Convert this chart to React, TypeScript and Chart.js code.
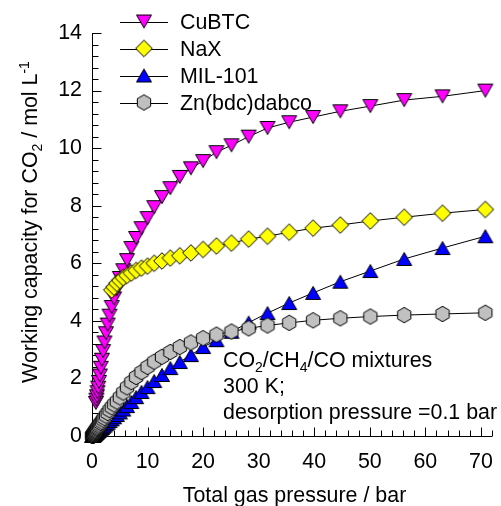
import React, { useEffect, useRef } from 'react';
import { Chart, registerables } from 'chart.js';

Chart.register(...registerables);

// ---------- data ----------
const pressures = [
  0.1, 0.112, 0.126, 0.141, 0.158, 0.178, 0.2, 0.224, 0.251, 0.282,
  0.316, 0.355, 0.398, 0.447, 0.501, 0.562, 0.631, 0.708, 0.794, 0.891,
  1.0, 1.12, 1.26, 1.41, 1.58, 1.78, 2.0, 2.24, 2.51, 2.82,
  3.16, 3.55, 3.98, 4.47, 5.01, 5.62, 6.31, 7.08, 7.94, 8.91,
  10.0, 11.2, 12.6, 14.1, 15.8, 17.8, 20.0, 22.4, 25.1, 28.2,
  31.6, 35.5, 39.8, 44.7, 50.1, 56.2, 63.1, 70.8,
];

const seriesNames = ['CuBTC', 'NaX', 'MIL-101', 'Zn(bdc)dabco'];

// CuBTC starts at pressures[17]
const cubtcStart = 17;
const cubtc = [
  1.15, 1.26, 1.38, 1.52, 1.68, 1.88, 2.1, 2.37, 2.65, 2.95,
  3.25, 3.57, 3.87, 4.18, 4.48, 4.78, 5.1, 5.49, 5.76, 6.11,
  6.53, 6.88, 7.22, 7.57, 7.95, 8.3, 8.61, 9.0, 9.3, 9.55,
  9.86, 10.1, 10.4, 10.7, 10.9, 11.08, 11.28, 11.46, 11.67, 11.8,
  12.0,
];

// NaX starts at pressures[31]
const naxStart = 31;
const nax = [
  5.07, 5.17, 5.3, 5.4, 5.5, 5.58, 5.66, 5.75, 5.83, 5.9,
  6.0, 6.08, 6.18, 6.26, 6.36, 6.48, 6.6, 6.7, 6.84, 6.94,
  7.08, 7.22, 7.33, 7.47, 7.6, 7.74, 7.87,
];

// MIL-101 starts at pressures[0]
const milStart = 0;
const mil101 = [
  0, 0.001, 0.003, 0.005, 0.008, 0.012, 0.015, 0.02, 0.025, 0.03,
  0.035, 0.04, 0.045, 0.055, 0.065, 0.075, 0.085, 0.1, 0.11, 0.13,
  0.15, 0.17, 0.19, 0.22, 0.25, 0.28, 0.32, 0.36, 0.41, 0.46,
  0.52, 0.58, 0.65, 0.73, 0.82, 0.92, 1.04, 1.18, 1.35, 1.53,
  1.7, 1.91, 2.12, 2.36, 2.57, 2.81, 3.09, 3.33, 3.62, 3.94,
  4.27, 4.62, 4.97, 5.36, 5.73, 6.15, 6.53, 6.94,
];

// Zn(bdc)dabco starts at pressures[0]
const znStart = 0;
const znbdc = [
  0, 0.003, 0.007, 0.01, 0.015, 0.02, 0.03, 0.035, 0.04, 0.05,
  0.06, 0.08, 0.09, 0.11, 0.13, 0.15, 0.17, 0.19, 0.22, 0.25,
  0.28, 0.32, 0.36, 0.4, 0.45, 0.5, 0.57, 0.63, 0.71, 0.8,
  0.9, 1.0, 1.1, 1.2, 1.34, 1.51, 1.69, 1.87, 2.05, 2.22,
  2.4, 2.58, 2.75, 2.92, 3.09, 3.25, 3.4, 3.52, 3.63, 3.74,
  3.84, 3.93, 4.02, 4.09, 4.15, 4.2, 4.24, 4.28,
];

const xTickLabels = [0, 10, 20, 30, 40, 50, 60, 70];
const yTickLabels = [0, 2, 4, 6, 8, 10, 12, 14];

const annotationLines = [
  [{ t: 'CO' }, { t: '2', sub: true }, { t: '/CH' }, { t: '4', sub: true }, { t: '/CO mixtures' }],
  [{ t: '300 K;' }],
  [{ t: 'desorption pressure =0.1 bar' }],
];
const xTitle = [{ t: 'Total gas pressure / bar' }];
const yTitle = [
  { t: 'Working capacity for CO' }, { t: '2', sub: true }, { t: ' / mol L' }, { t: '-1', sup: true },
];

// ---------- styles ----------
const FONT = '"Liberation Sans", Arial, Helvetica, sans-serif';
const FS = 21.4;
const SFS = 14;

type Part = { t: string; sub?: boolean; sup?: boolean };

function makeMarker(kind: string, fill: string): HTMLCanvasElement {
  const c = document.createElement('canvas');
  const W = 20, H = 20;
  c.width = W; c.height = H;
  const g = c.getContext('2d')!;
  const cx = W / 2, cy = H / 2;
  g.beginPath();
  if (kind === 'down') {
    const hw = 7.5, h = 13;
    g.moveTo(cx - hw, cy - h / 2);
    g.lineTo(cx + hw, cy - h / 2);
    g.lineTo(cx, cy + h / 2);
  } else if (kind === 'up') {
    const hw = 7.5, h = 13;
    g.moveTo(cx - hw, cy + h / 2);
    g.lineTo(cx + hw, cy + h / 2);
    g.lineTo(cx, cy - h / 2);
  } else if (kind === 'diamond') {
    const r = 8.3;
    g.moveTo(cx, cy - r);
    g.lineTo(cx + r, cy);
    g.lineTo(cx, cy + r);
    g.lineTo(cx - r, cy);
  } else {
    const R = 7.7;
    for (let i = 0; i < 6; i++) {
      const a = -Math.PI / 2 + (i * Math.PI) / 3;
      const px = cx + R * Math.cos(a), py = cy + R * Math.sin(a);
      if (i === 0) g.moveTo(px, py); else g.lineTo(px, py);
    }
  }
  g.closePath();
  g.fillStyle = fill;
  g.fill();
  g.lineWidth = 1;
  g.strokeStyle = '#000';
  g.stroke();
  return c;
}

function toPoints(start: number, vals: number[]) {
  return vals.map((v, i) => ({ x: pressures[start + i], y: v }));
}

function fontFor(p: Part) {
  return `${p.sub || p.sup ? SFS : FS}px ${FONT}`;
}
function richWidth(ctx: CanvasRenderingContext2D, parts: Part[]) {
  let w = 0;
  for (const p of parts) { ctx.font = fontFor(p); w += ctx.measureText(p.t).width; }
  return w;
}
function drawRich(ctx: CanvasRenderingContext2D, parts: Part[], x: number, y: number) {
  let cx = x;
  for (const p of parts) {
    ctx.font = fontFor(p);
    const dy = p.sub ? 5 : p.sup ? -8 : 0;
    ctx.fillText(p.t, cx, y + dy);
    cx += ctx.measureText(p.t).width;
  }
}

export default function App() {
  const ref = useRef<HTMLCanvasElement>(null);

  useEffect(() => {
    const markers = [
      makeMarker('down', '#FF00FF'),
      makeMarker('diamond', '#FFFF00'),
      makeMarker('up', '#0000FF'),
      makeMarker('hex', '#C0C0C0'),
    ];
    const datas = [
      toPoints(cubtcStart, cubtc),
      toPoints(naxStart, nax),
      toPoints(milStart, mil101),
      toPoints(znStart, znbdc),
    ];
    const orders = [3, 2, 1, 0];

    const decor = {
      id: 'decor',
      beforeDatasetsDraw(chart: any) {
        const { ctx, chartArea: a, scales } = chart;
        const x = scales.x, y = scales.y;
        ctx.save();
        ctx.strokeStyle = '#000';
        ctx.lineWidth = 1;
        ctx.beginPath();
        const lx = Math.round(a.left) + 0.5;
        const by = Math.round(a.bottom) + 0.5;
        ctx.moveTo(lx, Math.round(a.top));
        ctx.lineTo(lx, by);
        ctx.lineTo(Math.round(a.right), by);
        for (let k = 0; k <= 36; k++) {
          const v = k * 2;
          const px = Math.round(x.getPixelForValue(v)) + 0.5;
          const len = v % 10 === 0 ? 9 : 6;
          ctx.moveTo(px, by);
          ctx.lineTo(px, by - len);
        }
        for (let k = 0; k <= 35; k++) {
          const v = k * 0.4;
          const py = Math.round(y.getPixelForValue(v)) + 0.5;
          const len = k % 5 === 0 ? 9 : 6;
          ctx.moveTo(lx, py);
          ctx.lineTo(lx + len, py);
        }
        ctx.stroke();
        ctx.restore();
      },
      afterDatasetsDraw(chart: any) {
        const { ctx } = chart;
        ctx.save();
        ctx.fillStyle = '#000';
        ctx.textAlign = 'left';
        ctx.textBaseline = 'alphabetic';
        // legend
        seriesNames.forEach((name, i) => {
          const yy = 21.5 + 27 * i;
          ctx.strokeStyle = '#000';
          ctx.lineWidth = 1;
          ctx.beginPath();
          ctx.moveTo(120, Math.round(yy) + 0.5);
          ctx.lineTo(168, Math.round(yy) + 0.5);
          ctx.stroke();
          const m = markers[i];
          ctx.drawImage(m, 144 - m.width / 2, yy - m.height / 2);
          ctx.font = `${FS}px ${FONT}`;
          ctx.fillText(name, 180, yy + 7.5);
        });
        // annotation
        const baselines = [367, 393, 419];
        annotationLines.forEach((parts, i) => drawRich(ctx, parts as Part[], 223, baselines[i]));
        // x title
        const xw = richWidth(ctx, xTitle);
        drawRich(ctx, xTitle, 294.5 - xw / 2, 502);
        // y title
        const yw = richWidth(ctx, yTitle as Part[]);
        ctx.translate(37, 222);
        ctx.rotate(-Math.PI / 2);
        drawRich(ctx, yTitle as Part[], -yw / 2, 0);
        ctx.restore();
      },
    };

    const chart = new Chart(ref.current!, {
      type: 'line',
      data: {
        datasets: seriesNames.map((name, i) => ({
          label: name,
          data: datas[i],
          borderColor: '#000',
          borderWidth: 1,
          pointStyle: markers[i] as any,
          pointRadius: 8,
          pointHoverRadius: 8,
          fill: false,
          tension: 0,
          clip: false as any,
          order: orders[i],
        })),
      },
      options: {
        animation: false,
        responsive: false,
        devicePixelRatio: 1,
        events: [],
        layout: { padding: { top: 33, right: 4, left: 0, bottom: 0 } },
        plugins: { legend: { display: false }, tooltip: { enabled: false } },
        scales: {
          x: {
            type: 'linear',
            min: 0,
            max: 72,
            grid: { display: false, drawTicks: false },
            border: { display: false },
            afterBuildTicks: (s: any) => { s.ticks = xTickLabels.map((v) => ({ value: v })); },
            afterFit: (s: any) => { s.height = 70; s.paddingLeft = 0; s.paddingRight = 0; },
            ticks: {
              color: '#000',
              font: { family: FONT, size: FS },
              padding: 13,
              maxRotation: 0,
              autoSkip: false,
            },
          },
          y: {
            type: 'linear',
            min: 0,
            max: 14,
            grid: { display: false, drawTicks: false },
            border: { display: false },
            afterBuildTicks: (s: any) => { s.ticks = yTickLabels.map((v) => ({ value: v })); },
            afterFit: (s: any) => { s.width = 92; s.paddingTop = 0; s.paddingBottom = 0; },
            ticks: {
              color: '#000',
              font: { family: FONT, size: FS },
              padding: 10,
              autoSkip: false,
            },
          },
        },
      },
      plugins: [decor],
    } as any);
    return () => chart.destroy();
  }, []);

  return (
    <div style={{ position: 'absolute', left: 0, top: 0, width: 501, height: 506, background: '#fff' }}>
      <canvas ref={ref} width={501} height={506} style={{ display: 'block' }} />
    </div>
  );
}
